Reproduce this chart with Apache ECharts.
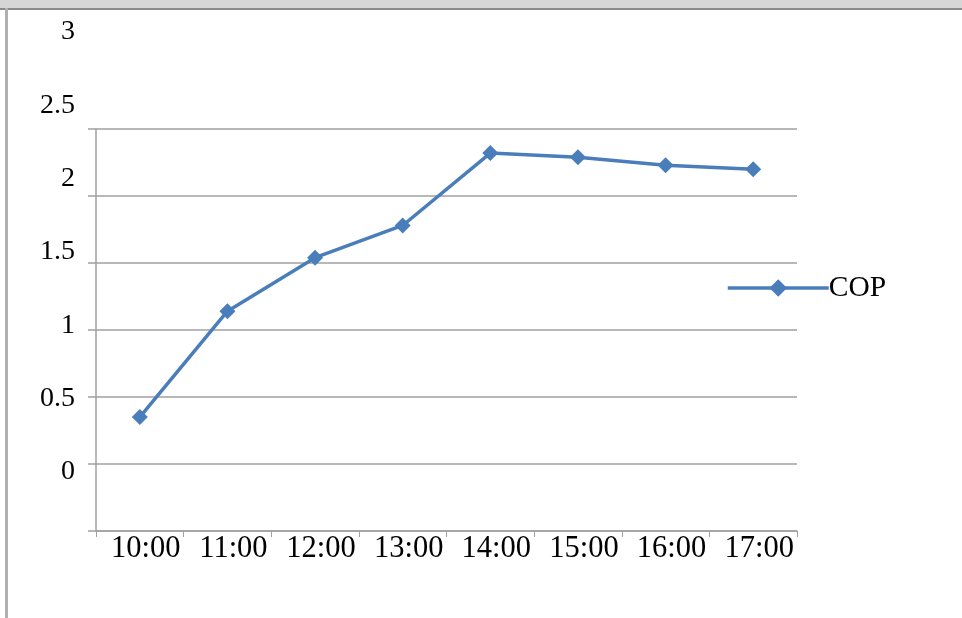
<!DOCTYPE html>
<html>
<head>
<meta charset="utf-8">
<script src="https://cdn.jsdelivr.net/npm/echarts@6/dist/echarts.min.js"></script>
<style>
  html, body { margin: 0; padding: 0; background: #fff; }
  #wrap { position: relative; width: 962px; height: 618px; overflow: hidden; }
  #band { position: absolute; left: 0; top: 0; width: 962px; height: 8px; background: #d6d6d6; border-bottom: 2px solid #8a8a8a; z-index: 2; }
  #lborder { position: absolute; left: 5px; top: 8px; width: 3px; height: 610px; background: #b0b0b0; z-index: 2; }
  #chart { position: absolute; left: 0; top: 0; width: 962px; height: 618px; }
</style>
</head>
<body>
<div id="wrap">
  <div id="chart"></div>
  <div id="band"></div>
  <div id="lborder"></div>
</div>
<script>
const categories = ['10:00', '11:00', '12:00', '13:00', '14:00', '15:00', '16:00', '17:00'];
const copValues = [0.35, 1.14, 1.54, 1.78, 2.32, 2.29, 2.23, 2.20];
const seriesName = 'COP';

const font = '"Liberation Serif", "Times New Roman", serif';
const gray = '#a0a0a0';
const blue = '#4A7EBB';

const chart = echarts.init(document.getElementById('chart'));
chart.setOption({
  animation: false,
  backgroundColor: 'transparent',
  grid: [
    { left: 96, right: 165, top: 129, bottom: 87 },
    { left: 83, right: 165, top: 32, bottom: 146 }
  ],
  legend: {
    data: [seriesName],
    left: 721,
    top: 268,
    itemWidth: 101,
    itemHeight: 22,
    lineStyle: { width: 3.5, color: blue },
    itemStyle: { color: blue },
    textStyle: { fontFamily: font, fontSize: 29.5, color: '#000', padding: [0, 0, 0, -5] }
  },
  xAxis: [
    {
      type: 'category',
      gridIndex: 0,
      data: categories,
      boundaryGap: true,
      axisLine: { show: true, onZero: false, lineStyle: { color: gray, width: 1.5 } },
      axisTick: { show: true, interval: 0, length: 6, lineStyle: { color: gray } },
      axisLabel: { interval: 0, hideOverlap: false, fontFamily: font, fontSize: 30.5, color: '#000', margin: 2, padding: [0, 0, 0, 12] },
      splitLine: { show: false }
    },
    {
      type: 'category',
      gridIndex: 1,
      data: categories,
      show: false
    }
  ],
  yAxis: [
    {
      type: 'value',
      gridIndex: 0,
      min: -0.5,
      max: 2.5,
      interval: 0.5,
      axisLine: { show: true, lineStyle: { color: gray, width: 1.5 } },
      axisTick: { show: true, length: 8, lineStyle: { color: gray, width: 1.5 } },
      axisLabel: { show: false },
      splitLine: { show: true, lineStyle: { color: gray, width: 1.5 } }
    },
    {
      type: 'value',
      gridIndex: 1,
      min: 0,
      max: 3,
      interval: 0.5,
      axisLine: { show: false },
      axisTick: { show: false },
      splitLine: { show: false },
      axisLabel: { fontFamily: font, fontSize: 28, color: '#000', margin: 8 }
    }
  ],
  series: [
    {
      name: seriesName,
      type: 'line',
      xAxisIndex: 0,
      yAxisIndex: 0,
      data: copValues,
      symbol: 'diamond',
      symbolSize: 16,
      color: blue,
      lineStyle: { color: blue, width: 3.5 },
      itemStyle: { color: blue }
    }
  ]
});
</script>
</body>
</html>
